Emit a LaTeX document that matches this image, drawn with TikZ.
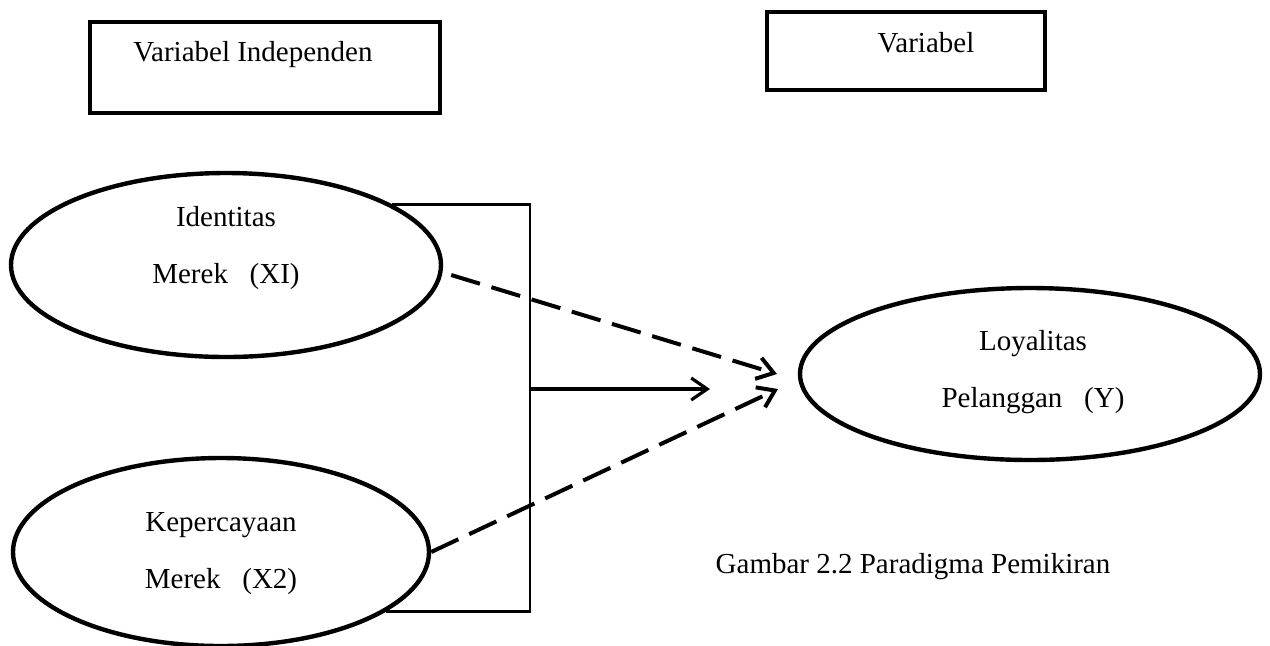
\documentclass[tikz,border=0pt]{standalone}
\usepackage{fontspec}
\setmainfont{Liberation Serif}
\usetikzlibrary{shapes.geometric}
\usetikzlibrary{arrows.meta}

\newcommand{\diagfont}{\fontsize{14.5pt}{28.5pt}\selectfont}

\tikzset{
  varbox/.style={draw=black, line width=2pt, inner sep=0pt},
  varell/.style={draw=black, ellipse, line width=2.2pt, inner sep=0pt},
  vartext/.style={text=black, font=\diagfont, align=center, inner sep=0pt},
  brline/.style={draw=black, line width=1.4pt},
  solidarrow/.style={draw=black, line width=1.6pt, -{Straight Barb[length=8pt, width=11pt]}},
  dasharrow/.style={draw=black, line width=2pt, dash pattern=on 15pt off 6pt, -{Straight Barb[length=8pt, width=11pt]}}
}

\begin{document}
\begin{tikzpicture}[x=0.5pt, y=-0.5pt]
  \useasboundingbox (0,0) rectangle (1270,645);

  % header boxes
  \node[varbox, minimum width=175pt, minimum height=45.5pt] (bxa) at (265,67.5) {};
  \node[vartext] (bxat) at (253,55) {Variabel Independen};
  \node[varbox, minimum width=139pt, minimum height=39pt] (bxb) at (906,51) {};
  \node[vartext] (bxbt) at (926,43) {Variabel};

  % variables
  \node[varell, minimum width=215pt, minimum height=92pt] (idn) at (226,265) {};
  \node[vartext] (idnt) at (226,248) {Identitas\\Merek~~~(XI)};
  \node[varell, minimum width=208pt, minimum height=94pt] (kpr) at (221,552) {};
  \node[vartext] (kprt) at (221,554) {Kepercayaan\\Merek~~~(X2)};
  \node[varell, minimum width=230pt, minimum height=86pt] (loy) at (1030,374) {};
  \node[vartext] (loyt) at (1033,372) {Loyalitas\\Pelanggan~~~(Y)};

  \node[vartext] (cap) at (913,567) {Gambar 2.2 Paradigma Pemikiran};

  % bracket and arrows
  \coordinate (brx) at (530,389);
  \coordinate (tipa) at (777,374);
  \coordinate (tipb) at (778,389);
  \coordinate (tipc) at (710,389);
  \draw[brline] (idn.20) -- (idn.20 -| brx) -- (kpr.-20 -| brx) -- (kpr.-20);
  \draw[solidarrow] (brx) -- (tipc);
  \draw[dasharrow] ([xshift=4pt,yshift=-5pt]idn.east) -- (tipa);
  \draw[dasharrow] (kpr.east) -- (tipb);
\end{tikzpicture}
\end{document}
